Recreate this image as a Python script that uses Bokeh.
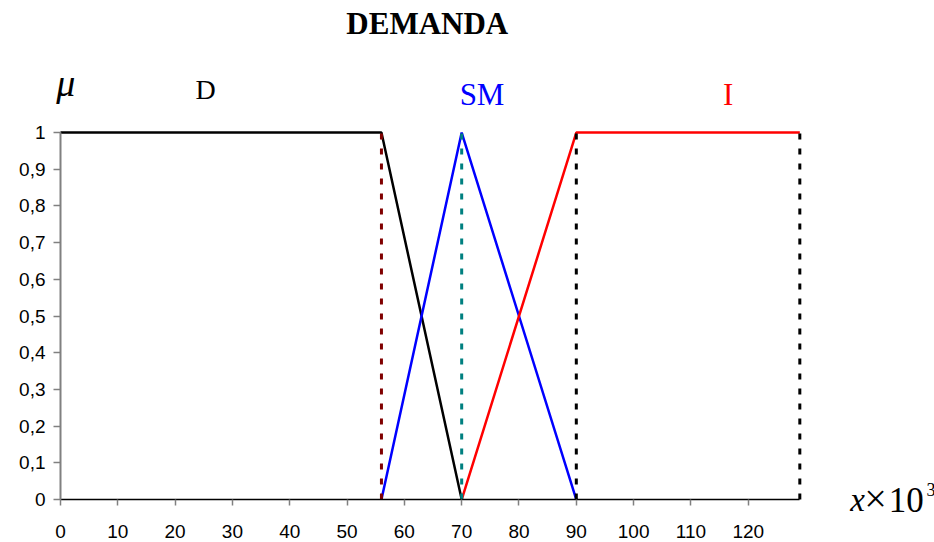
from bokeh.plotting import figure
from bokeh.models import Range1d, FixedTicker, Label
from bokeh.embed import file_html
from bokeh.resources import INLINE

# Membership functions for "DEMANDA" (x in thousands)
d_x = [0, 56, 70]
d_y = [1, 1, 0]
sm_x = [56, 70, 90]
sm_y = [0, 1, 0]
i_x = [70, 90, 129]
i_y = [0, 1, 1]

# Vertical reference lines at the breakpoints
guide_x = [56, 70, 90, 129]
guide_colors = ["#800000", "#008080", "#000000", "#000000"]

x_ticks = [0, 10, 20, 30, 40, 50, 60, 70, 80, 90, 100, 110, 120]
y_ticks = [0, 0.1, 0.2, 0.3, 0.4, 0.5, 0.6, 0.7, 0.8, 0.9, 1]
y_labels = ["0", "0,1", "0,2", "0,3", "0,4", "0,5", "0,6", "0,7", "0,8", "0,9", "1"]

SERIF = "Liberation Serif"
SANS = "Liberation Sans"

# The frame covers the whole canvas; both axes are pinned at zero inside it.
p = figure(width=934, height=542,
           x_range=Range1d(-10.47, 152.5), y_range=Range1d(-0.117, 1.36),
           output_backend="svg", toolbar_location=None,
           min_border=0)
p.outline_line_color = None
p.xgrid.visible = False
p.ygrid.visible = False
p.background_fill_color = "white"
p.border_fill_color = "white"

p.xaxis.fixed_location = 0
p.xaxis.ticker = FixedTicker(ticks=x_ticks)
p.xaxis.bounds = (0, 129)
p.xaxis.axis_line_color = "black"
p.xaxis.axis_line_width = 1.5
p.xaxis.major_tick_line_color = "#808080"
p.xaxis.major_tick_line_width = 1.5
p.xaxis.major_tick_out = 6
p.xaxis.major_tick_in = 0
p.xaxis.minor_tick_line_color = None
p.xaxis.major_label_text_font = SANS
p.xaxis.major_label_text_font_size = "19px"
p.xaxis.major_label_text_color = "black"
p.xaxis.major_label_standoff = 19

p.yaxis.fixed_location = 0
p.yaxis.ticker = FixedTicker(ticks=y_ticks)
p.yaxis.major_label_overrides = {t: s for t, s in zip(y_ticks, y_labels)}
p.yaxis.bounds = (0, 1)
p.yaxis.axis_line_color = "#808080"
p.yaxis.axis_line_width = 2
p.yaxis.major_tick_line_color = "#808080"
p.yaxis.major_tick_line_width = 1.5
p.yaxis.major_tick_out = 7
p.yaxis.major_tick_in = 0
p.yaxis.minor_tick_line_color = None
p.yaxis.major_label_text_font = SANS
p.yaxis.major_label_text_font_size = "19px"
p.yaxis.major_label_text_color = "black"
p.yaxis.major_label_standoff = 8

# Membership curves
p.line(d_x, d_y, line_color="black", line_width=2.5)
p.line(sm_x, sm_y, line_color="#0000FF", line_width=2.5)
p.line(i_x, i_y, line_color="#FF0000", line_width=2.5)

# Dotted breakpoint markers
p.segment(x0=guide_x, y0=[0] * len(guide_x), x1=guide_x, y1=[1] * len(guide_x),
          line_color=guide_colors, line_width=3, line_dash="6 9")


def add_text(x, y, text, size, color="black", style="normal", align="center"):
    p.add_layout(Label(x=x, y=y, text=text, text_font=SERIF,
                       text_font_style=style, text_font_size=size,
                       text_color=color, text_align=align,
                       text_baseline="alphabetic"))


# Title and set labels
add_text(64.0, 1.298, "DEMANDA", "31px", style="bold")
add_text(0.9, 1.134, "μ", "38px", style="italic")
add_text(25.3, 1.118, "D", "28px")
add_text(73.55, 1.104, "SM", "31px", color="#0000FF")
add_text(116.5, 1.104, "I", "31px", color="#FF0000")

# Axis unit  x×10³
add_text(137.8, -0.002, "x", "33px", style="italic", align="left")
add_text(142.2, 0.004, "×", "40px")
add_text(144.5, -0.002, "10", "35px", align="left")
add_text(151.1, 0.028, "3", "18px", align="left")

open("out.html", "w").write(file_html(p, INLINE))
